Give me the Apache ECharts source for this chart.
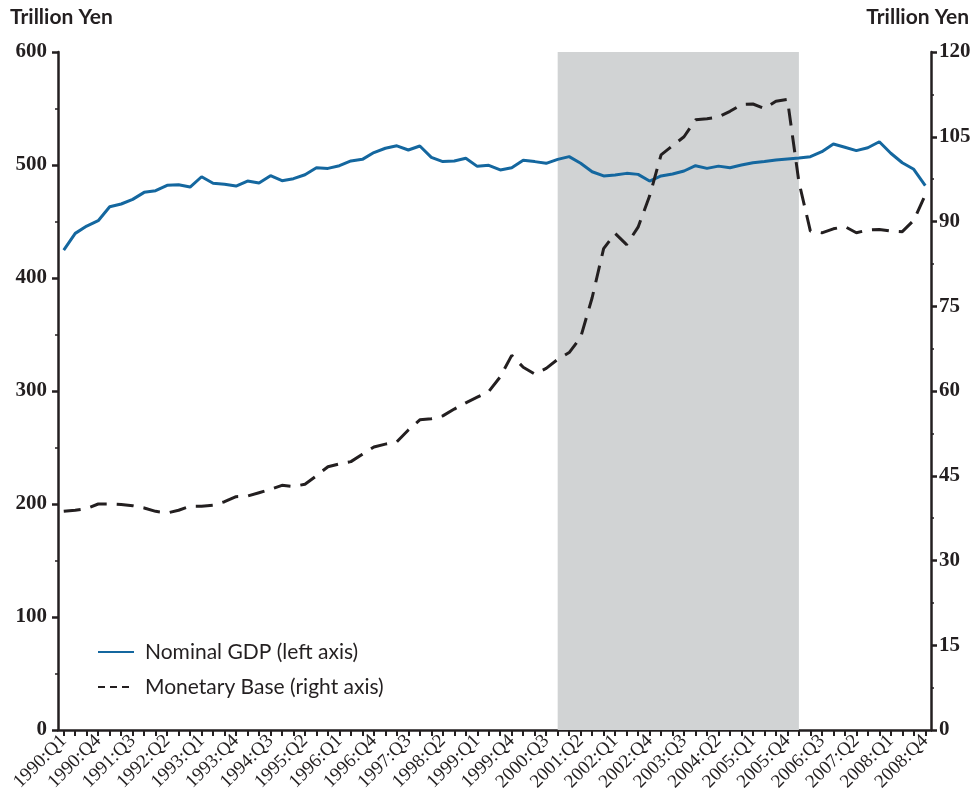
<!DOCTYPE html>
<html>
<head>
<meta charset="utf-8">
<script src="https://cdn.jsdelivr.net/npm/echarts@6/dist/echarts.min.js"></script>
<style>
html,body{margin:0;padding:0;background:#fff;}
#chart{width:979px;height:808px;}
</style>
</head>
<body>
<div id="chart"></div>
<script>
// ---- data ----
const years = [];
for (let y = 1990; y <= 2008; y++) years.push(y);
const quarters = ['Q1','Q2','Q3','Q4'];
const categories = [];
years.forEach(y => quarters.forEach(q => categories.push(y + ':' + q)));

const nominalGDP = [
  424.7, 439.5, 446.0, 450.7, 463.0, 465.5, 469.6, 475.8, 477.3, 482.0,
  482.6, 480.5, 489.6, 483.8, 482.9, 481.4, 485.8, 484.0, 490.5, 486.1,
  487.9, 491.4, 497.5, 497.0, 499.4, 503.6, 505.0, 511.0, 514.8, 517.0,
  513.3, 516.8, 506.8, 503.0, 503.5, 506.0, 498.8, 499.7, 495.6, 497.6,
  504.2, 503.0, 501.5, 505.0, 507.4, 501.5, 494.0, 490.3, 491.1, 492.6,
  491.7, 485.8, 490.3, 492.0, 494.7, 499.4, 497.0, 499.0, 497.6, 500.0,
  502.0, 503.0, 504.4, 505.3, 506.2, 507.4, 511.8, 518.6, 515.7, 512.7,
  515.3, 520.6, 510.4, 502.0, 496.2, 481.7
];
const monetaryBase = [
  38.7, 38.9, 39.2, 40.0, 40.0, 39.9, 39.7, 39.3, 38.7, 38.4,
  38.9, 39.6, 39.6, 39.8, 40.4, 41.3, 41.4, 42.0, 42.6, 43.3,
  43.1, 43.5, 45.0, 46.6, 47.1, 47.5, 48.8, 50.1, 50.6, 51.0,
  53.1, 54.9, 55.1, 55.6, 56.8, 57.9, 58.9, 59.9, 62.5, 66.3,
  64.2, 63.0, 64.0, 65.6, 66.8, 69.5, 76.5, 85.2, 87.9, 85.9,
  89.0, 94.5, 101.8, 103.4, 105.0, 108.0, 108.2, 108.5, 109.5, 110.7,
  110.8, 110.0, 111.3, 111.6, 97.0, 88.3, 88.0, 88.7, 89.1, 88.0,
  88.5, 88.6, 88.3, 88.2, 90.2, 94.7
];
const shadeStart = '2000:Q4';
const shadeEnd = '2006:Q1';
const seriesNames = ['Nominal GDP (left axis)', 'Monetary Base (right axis)'];
const unitLabel = 'Trillion Yen';

// ---- chart ----
const ink = '#231f20';
const serif = '"Liberation Serif", "DejaVu Serif", serif';
const sans = 'Lato, "Open Sans", "Noto Sans", sans-serif';
const chart = echarts.init(document.getElementById('chart'), null, {renderer: 'canvas'});

const yAxisCommon = {
  type: 'value',
  min: 0,
  axisLine: {show: true, lineStyle: {color: ink, width: 2.5}},
  axisTick: {show: true, length: 6, lineStyle: {color: ink, width: 2.5}},
  minorTick: {show: true, splitNumber: 2, length: 3, lineStyle: {color: ink, width: 1.5}},
  splitLine: {show: false},
  axisLabel: {color: ink, fontFamily: serif, fontSize: 21, fontWeight: 'bold', margin: 8}
};

chart.setOption({
  animation: false,
  backgroundColor: '#ffffff',
  grid: {left: 58, right: 48, top: 52, bottom: 78, containLabel: false},
  graphic: [
    {type: 'text', left: 10, top: 7,
     style: {text: unitLabel, font: 'bold 21px ' + sans, fill: ink}},
    {type: 'text', right: 10, top: 7,
     style: {text: unitLabel, font: 'bold 21px ' + sans, fill: ink}}
  ],
  legend: {
    orient: 'vertical',
    left: 92, top: 636,
    itemWidth: 36, itemHeight: 14, itemGap: 13,
    itemStyle: {opacity: 0},
    textStyle: {color: ink, fontFamily: sans, fontSize: 21, padding: [0, 0, 0, 6], lineHeight: 22},
    data: [
      {name: seriesNames[0]},
      {name: seriesNames[1], lineStyle: {type: [7, 5]}}
    ]
  },
  xAxis: {
    type: 'category',
    data: categories,
    boundaryGap: true,
    axisLine: {show: true, lineStyle: {color: ink, width: 2.5}},
    axisTick: {show: true, alignWithLabel: true, interval: 0, length: 6, lineStyle: {color: ink, width: 2}},
    axisLabel: {interval: 2, rotate: 45, color: ink, fontFamily: serif, fontSize: 19, margin: 8},
    splitLine: {show: false}
  },
  yAxis: [
    Object.assign({}, yAxisCommon, {position: 'left', max: 600, interval: 100,
      axisLabel: Object.assign({}, yAxisCommon.axisLabel, {margin: 11})}),
    Object.assign({}, yAxisCommon, {position: 'right', max: 120, interval: 15})
  ],
  series: [
    {
      name: seriesNames[0],
      type: 'line',
      yAxisIndex: 0,
      data: nominalGDP,
      symbol: 'none',
      z: 3,
      lineStyle: {color: '#14679f', width: 3},
      itemStyle: {color: '#14679f'},
      markArea: {
        silent: true,
        itemStyle: {color: '#d1d3d4'},
        data: [[{xAxis: shadeStart}, {xAxis: shadeEnd}]]
      }
    },
    {
      name: seriesNames[1],
      type: 'line',
      yAxisIndex: 1,
      data: monetaryBase,
      symbol: 'none',
      z: 4,
      lineStyle: {color: ink, width: 3, type: [17, 10]},
      itemStyle: {color: ink}
    }
  ]
});
</script>
</body>
</html>
